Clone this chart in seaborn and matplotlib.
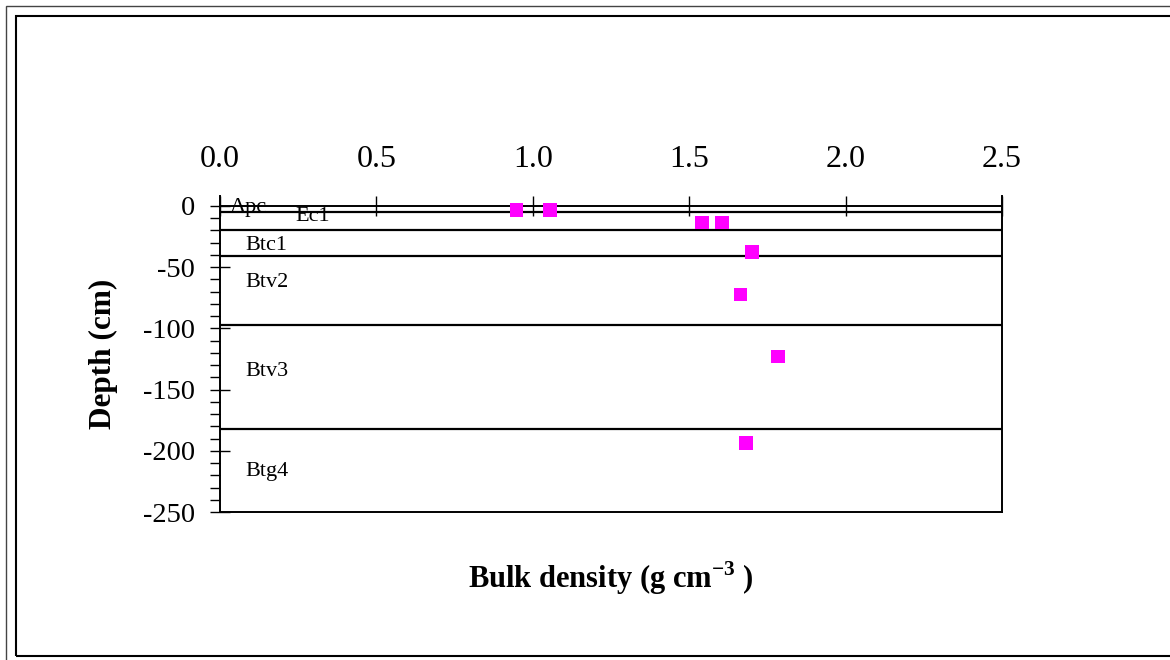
import matplotlib
matplotlib.use("Agg")
import matplotlib.pyplot as plt
import seaborn as sns
import pandas as pd
from matplotlib.patches import Rectangle
from matplotlib.ticker import MultipleLocator, FormatStrFormatter

# --- data ---
bulk_density = [0.948, 1.055, 1.541, 1.606, 1.700, 1.664, 1.784, 1.683]
depth = [-3.5, -3.5, -13.6, -13.6, -38, -72.4, -123, -193.4]

horizons = ["Apc", "Ec1", "Btc1", "Btv2", "Btv3", "Btg4"]
horizon_x = [0.03, 0.24, 0.08, 0.08, 0.08, 0.08]
horizon_y = [-1.6, -9, -32.7, -63, -135.6, -217]
boundaries = [-5, -20, -41, -97, -182]

df = pd.DataFrame({"BD": bulk_density, "Depth": depth})

sns.set_style("white")
plt.rcParams['font.family'] = ['Liberation Serif', 'DejaVu Serif']
plt.rcParams['mathtext.fontset'] = 'custom'
plt.rcParams['mathtext.rm'] = 'Liberation Serif'
plt.rcParams['mathtext.bf'] = 'Liberation Serif:bold'
plt.rcParams['axes.unicode_minus'] = False
plt.rcParams['text.color'] = 'black'
plt.rcParams['axes.labelcolor'] = 'black'
plt.rcParams['xtick.color'] = 'black'
plt.rcParams['ytick.color'] = 'black'

fig = plt.figure(figsize=(11.7, 6.6), dpi=100)
ax = fig.add_axes([220/1170, 1 - 512/660, (1002-220)/1170, (512-196)/660])

sns.scatterplot(data=df, x="BD", y="Depth", marker="s", color="#FF00FF",
                s=100, edgecolor="none", ax=ax, zorder=5)

# horizon boundaries
for b in boundaries:
    ax.axhline(b, color="black", lw=1.6, zorder=2)

for name, hx, hy in zip(horizons, horizon_x, horizon_y):
    ax.text(hx, hy, name, fontsize=16, va="center", ha="left")

ax.set_xlim(0, 2.5)
ax.set_ylim(-250, 8)

# x axis sits at depth 0, labels on top
ax.spines['top'].set_position(('data', 0))
for s in ['top', 'right', 'left', 'bottom']:
    ax.spines[s].set_visible(True)
    ax.spines[s].set_color("black")
    ax.spines[s].set_linewidth(1.4)
ax.xaxis.set_ticks_position('top')
ax.xaxis.set_major_locator(MultipleLocator(0.5))
ax.xaxis.set_major_formatter(FormatStrFormatter('%.1f'))
ax.tick_params(axis='x', which='major', direction='inout', length=14.4,
               width=1, labelsize=23, pad=16, top=True, bottom=False,
               labeltop=True, labelbottom=False)

ax.yaxis.set_major_locator(MultipleLocator(50))
ax.yaxis.set_minor_locator(MultipleLocator(10))
ax.tick_params(axis='y', which='major', direction='inout', length=14.4,
               width=1, labelsize=20.5, pad=11, left=True)
ax.tick_params(axis='y', which='minor', direction='out', length=7.2,
               width=1, left=True)

ax.set_ylabel("Depth (cm)", fontsize=22.5, fontweight="bold", labelpad=18)
ax.xaxis.set_label_position('bottom')
ax.set_xlabel(r"Bulk density (g cm$^{\mathbf{-3}}$ )", fontsize=22,
              fontweight="bold", labelpad=34)

# double frame round the chart
fig.add_artist(Rectangle((6/1170, -0.1), 1.2, 1 - 6/660 + 0.1,
                         transform=fig.transFigure, fill=False,
                         edgecolor="#444444", lw=1))
fig.add_artist(Rectangle((16/1170, 1 - 656/660), 1.2, (656-16)/660,
                         transform=fig.transFigure, fill=False,
                         edgecolor="black", lw=1.5))

fig.savefig("out.png", dpi=100)
